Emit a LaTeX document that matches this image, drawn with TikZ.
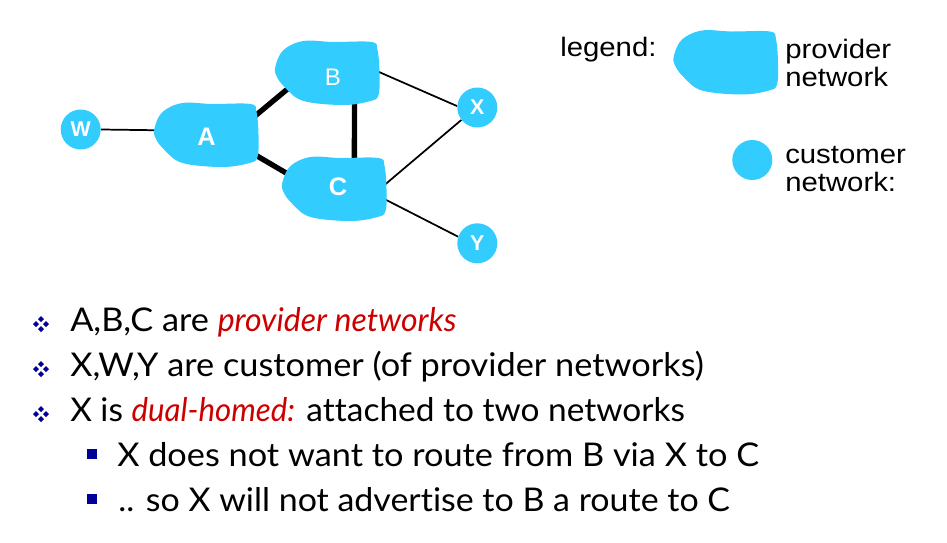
\documentclass[tikz,border=0pt]{standalone}
\usepackage{fontspec}
\setmainfont{Lato}[Ligatures={NoCommon}, FakeStretch=1.05, ItalicFeatures={FakeStretch=0.98}]
\newfontfamily\arialfont{Liberation Sans}[FakeStretch=1.1]
\newfontfamily\arialplain{Liberation Sans}
\usetikzlibrary{shapes.geometric}

\pgfdeclarelayer{wires}
\pgfdeclarelayer{clouds}
\pgfsetlayers{wires,clouds,main}

\definecolor{netblue}{RGB}{51,204,255}
\definecolor{bulletblue}{RGB}{0,0,153}
\definecolor{emred}{RGB}{204,0,0}

% irregular "cloud" outline of a provider network, centred on a node
\newcommand{\cloudfill}[1]{%
  \fill[netblue, shift={(#1.center)}] plot[smooth cycle, tension=0.6] coordinates {
    (-52,-7) (-44,-23) (-24,-32) (6,-31) (44,-31) (50,-23) (52,0) (51,22)
    (43,28) (16,32) (-24,28) (-42,15) (-51,3)};}

\tikzset{
  provider/.style={ellipse, minimum width=67.5pt, minimum height=42pt, inner sep=0pt},
  customer/.style={circle, fill=netblue, minimum size=30pt, inner sep=0pt,
    text=white, font=\arialplain\bfseries\fontsize{16}{16}\selectfont},
  provlabel/.style={text=white, font=\arialplain\bfseries\fontsize{19}{19}\selectfont},
  wire/.style={line width=1.3pt, black},
  trunk/.style={line width=4pt, black},
  legendtext/.style={anchor=base west, inner sep=0pt, font=\arialfont\fontsize{20}{20}\selectfont},
  bullettext/.style={anchor=base west, inner sep=0pt, font=\fontsize{24.5}{24.5}\selectfont},
  subbullet/.style={rectangle, fill=bulletblue, minimum size=7.9pt, inner sep=0pt},
  quad/.pic={
    \foreach \dx/\dy in {-5/0,5/0,0/-5,0/5}
      \fill[bulletblue, shift={(\dx,\dy)}] (0,-3) -- (3,0) -- (0,3) -- (-3,0) -- cycle;
  }
}

\begin{document}
\begin{tikzpicture}[x=0.75pt, y=-0.75pt]
\useasboundingbox (0,0) rectangle (947,543);

% provider networks
\node[provider, label={[provlabel, yshift=-1pt]center:A}] (A) at (206.5,135) {};
\node[provider, label={[provlabel, font=\arialplain\fontsize{18}{18}\selectfont, xshift=4pt, yshift=-3.3pt]center:B}] (B) at (327.5,73) {};
\node[provider, label={[provlabel, xshift=2.6pt, yshift=1.7pt]center:C}] (C) at (334.5,189) {};
\begin{pgfonlayer}{clouds}
  \cloudfill{A}
  \cloudfill{B}
  \cloudfill{C}
\end{pgfonlayer}

% customer networks
\node[customer] (W) at (80.7,129.5) {W};
\node[customer] (X) at (477.3,107.5) {X};
\node[customer] (Y) at (477.3,243.3) {Y};

% links
\begin{pgfonlayer}{wires}
  \draw[wire]  (W.east) -- (A.174);
  \draw[trunk] (A.17)   -- (B.201);
  \draw[trunk] (A.340)  -- (C.164);
  \draw[trunk] (B.320)  -- (C.52);
  \draw[wire]  (B.5)    -- (X.176);
  \draw[wire]  (C.0)    -- (X.218);
  \draw[wire]  (C.351)  -- (Y.161);
\end{pgfonlayer}

% legend
\node[legendtext] (legtitle) at (560,56) {legend:};
\node[provider] (legprov) at (726,62.5) {};
\begin{pgfonlayer}{clouds}
  \cloudfill{legprov}
\end{pgfonlayer}
\node[legendtext] (provtxt1) at (785,58.3) {provider};
\node[legendtext] (provtxt2) at (785,86.7) {network};
\node[customer] (legcust) at (752.3,160) {};
\node[legendtext] (custtxt1) at (785,163.3) {customer};
\node[legendtext] (custtxt2) at (785,191.7) {network:};

% bullet points
\pic at (41,324) {quad};
\pic at (41,369) {quad};
\pic at (41,414) {quad};
\node[subbullet] (sq1) at (92,454) {};
\node[subbullet] (sq2) at (92,499) {};

\node[bullettext] (line1) at (70,331.7) {A,B,C are \textcolor{emred}{\itshape provider networks}};
\node[bullettext] (line2) at (70,376.7) {X,W,Y are customer (of provider networks)};
\node[bullettext] (line3) at (70,421.7) {\scalebox{0.975}[1]{X is \textcolor{emred}{\itshape dual-homed:} attached to two networks}};
\node[bullettext] (line4) at (117,466.5) {X does not want to route from B via X to C};
\node[bullettext] (line5) at (118,511.7) {\scalebox{0.99}[1]{.. so X will not advertise to B a route to C}};
\end{tikzpicture}
\end{document}
